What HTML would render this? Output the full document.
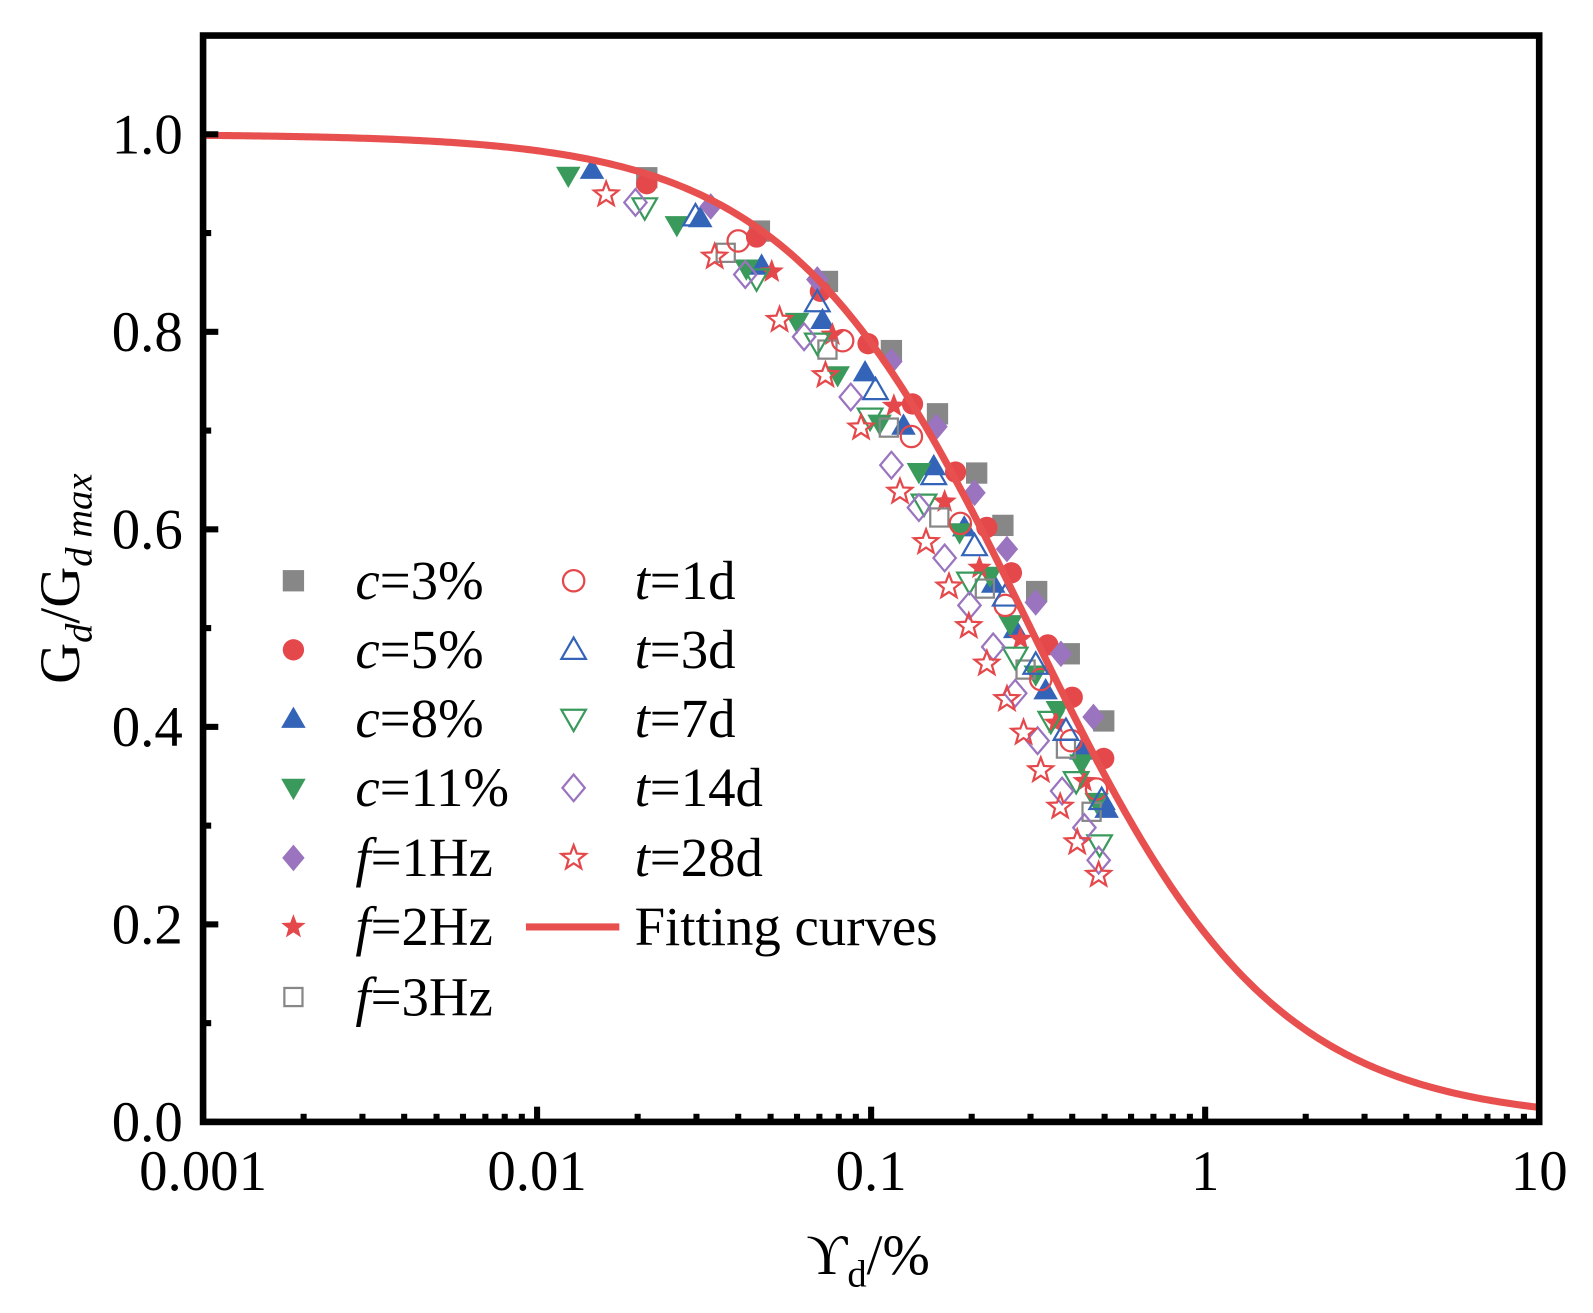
<!DOCTYPE html>
<html><head><meta charset="utf-8">
<style>
html,body{margin:0;padding:0;background:#fff;}
svg{display:block;font-family:"Liberation Serif",serif;}
</style></head>
<body>
<svg id="chart" width="1593" height="1313" viewBox="0 0 1593 1313">
<g id="root" transform="scale(1.0153)"></g>
</svg>
<script>
// ---- data (gamma in %, G/Gmax) ----
const xC3 = [0.0213,0.0463,0.0740,0.115,0.158,0.207,0.248,0.313,0.392,0.497];
const yC3 = [0.956,0.902,0.851,0.781,0.717,0.657,0.604,0.537,0.474,0.406];
const xC5 = [0.0213,0.0454,0.0705,0.0979,0.133,0.179,0.222,0.263,0.338,0.400,0.497];
const yC5 = [0.950,0.896,0.841,0.788,0.727,0.658,0.602,0.556,0.483,0.430,0.368];
const xC8 = [0.0146,0.0308,0.0470,0.0715,0.0959,0.125,0.154,0.190,0.232,0.270,0.333,0.426,0.507];
const yC8 = [0.964,0.915,0.867,0.812,0.759,0.705,0.664,0.602,0.545,0.499,0.437,0.376,0.317];
const xC11 = [0.0124,0.0262,0.0423,0.0600,0.0794,0.106,0.139,0.184,0.227,0.261,0.311,0.362,0.426,0.473];
const yC11 = [0.958,0.908,0.864,0.810,0.756,0.707,0.658,0.597,0.553,0.504,0.453,0.417,0.363,0.324];
const xF1 = [0.0331,0.0690,0.115,0.157,0.204,0.255,0.311,0.370,0.463];
const yF1 = [0.927,0.853,0.770,0.704,0.637,0.580,0.526,0.474,0.410];
const xF2 = [0.0504,0.0766,0.117,0.166,0.211,0.280,0.357,0.435];
const yF2 = [0.861,0.797,0.725,0.628,0.561,0.489,0.404,0.345];
const xF3 = [0.0367,0.0740,0.113,0.160,0.219,0.290,0.383,0.457];
const yF3 = [0.880,0.782,0.703,0.612,0.540,0.458,0.378,0.314];
const xT1 = [0.0400,0.0822,0.132,0.185,0.252,0.322,0.397,0.473];
const yT1 = [0.892,0.791,0.694,0.606,0.523,0.448,0.386,0.337];
const xT3 = [0.0298,0.0690,0.103,0.154,0.204,0.252,0.311,0.383,0.490];
const yT3 = [0.917,0.830,0.741,0.655,0.583,0.532,0.463,0.396,0.326];
const xT7 = [0.0210,0.0454,0.0690,0.0993,0.144,0.197,0.270,0.345,0.411,0.483];
const yT7 = [0.926,0.854,0.789,0.713,0.626,0.547,0.471,0.406,0.345,0.281];
const xT14 = [0.0197,0.0420,0.0630,0.0869,0.115,0.139,0.166,0.197,0.232,0.270,0.315,0.373,0.435,0.480];
const yT14 = [0.931,0.858,0.795,0.734,0.665,0.622,0.571,0.523,0.481,0.434,0.386,0.335,0.298,0.265];
const xT28 = [0.0161,0.0340,0.0532,0.0730,0.0933,0.122,0.146,0.171,0.196,0.222,0.255,0.286,0.322,0.368,0.414,0.480];
const yT28 = [0.939,0.876,0.812,0.756,0.703,0.638,0.587,0.542,0.502,0.464,0.428,0.394,0.356,0.319,0.283,0.250];
const fitParams = [0.30, 1.2]; // gamma_ref, n
const xTickVals = [0.001,0.01,0.1,1,10];
const xTickLabels = ["0.001","0.01","0.1","1","10"];
const yTickVals = [0,0.2,0.4,0.6,0.8,1.0];
const yTickLabels = ["0.0","0.2","0.4","0.6","0.8","1.0"];

// ---- layout (inner coordinates, group scaled) ----
const L=200,R=1516,T=35,B=1105;
const NS="http://www.w3.org/2000/svg";
const root=document.getElementById('root');
function X(v){return L+(Math.log10(v)+3)/4*(R-L);}
function Y(v){return B-v/1.1*(B-T);}
function mk(tag,attrs,parent){const e=document.createElementNS(NS,tag);for(const k in attrs)e.setAttribute(k,attrs[k]);(parent||root).appendChild(e);return e;}

const GRAY="#878787",RED="#e5484b",BLUE="#3464b8",GREEN="#3a9a5c",PURPLE="#9a74bf";
const S=10.5;
function starPts(cx,cy,r){let p=[];for(let i=0;i<10;i++){const a=-Math.PI/2+i*Math.PI/5;const rr=i%2?r*0.42:r;p.push((cx+rr*Math.cos(a)).toFixed(1)+","+(cy+rr*Math.sin(a)).toFixed(1));}return p.join(" ");}
function marker(shape,cx,cy,color,filled,parent){
  const st=filled?{fill:color,stroke:'none'}:{fill:'none',stroke:color,'stroke-width':2.2};
  let e;
  if(shape==='sq'){const s=filled?S:S*0.85;e=mk('rect',Object.assign({x:cx-s,y:cy-s,width:2*s,height:2*s},st),parent);}
  else if(shape==='ci'){e=mk('circle',Object.assign({cx:cx,cy:cy,r:S},st),parent);}
  else if(shape==='tu'){e=mk('polygon',Object.assign({points:`${cx},${cy-S*1.15} ${cx+S*1.15},${cy+S*0.85} ${cx-S*1.15},${cy+S*0.85}`},st),parent);}
  else if(shape==='td'){e=mk('polygon',Object.assign({points:`${cx},${cy+S*1.15} ${cx+S*1.15},${cy-S*0.85} ${cx-S*1.15},${cy-S*0.85}`},st),parent);}
  else if(shape==='di'){e=mk('polygon',Object.assign({points:`${cx},${cy-S*1.25} ${cx+S*1.05},${cy} ${cx},${cy+S*1.25} ${cx-S*1.05},${cy}`},st),parent);}
  else {e=mk('polygon',Object.assign({points:starPts(cx,cy,S*1.2)},st),parent);}
  return e;
}

const series=[
 {n:'c=3%',xs:xC3,ys:yC3,shape:'sq',c:GRAY,f:true,id:'c3'},
 {n:'c=5%',xs:xC5,ys:yC5,shape:'ci',c:RED,f:true,id:'c5'},
 {n:'c=8%',xs:xC8,ys:yC8,shape:'tu',c:BLUE,f:true,id:'c8'},
 {n:'c=11%',xs:xC11,ys:yC11,shape:'td',c:GREEN,f:true,id:'c11'},
 {n:'f=1Hz',xs:xF1,ys:yF1,shape:'di',c:PURPLE,f:true,id:'f1'},
 {n:'f=2Hz',xs:xF2,ys:yF2,shape:'st',c:RED,f:true,id:'f2'},
 {n:'f=3Hz',xs:xF3,ys:yF3,shape:'sq',c:GRAY,f:false,id:'f3'},
 {n:'t=1d',xs:xT1,ys:yT1,shape:'ci',c:RED,f:false,id:'t1'},
 {n:'t=3d',xs:xT3,ys:yT3,shape:'tu',c:BLUE,f:false,id:'t3'},
 {n:'t=7d',xs:xT7,ys:yT7,shape:'td',c:GREEN,f:false,id:'t7'},
 {n:'t=14d',xs:xT14,ys:yT14,shape:'di',c:PURPLE,f:false,id:'t14'},
 {n:'t=28d',xs:xT28,ys:yT28,shape:'st',c:RED,f:false,id:'t28'}
];

// markers
series.forEach(s=>{
  const g=mk('g',{});
  
  
  s.xs.forEach((xv,i)=>{
    const m=marker(s.shape,X(xv),Y(s.ys[i]),s.c,s.f,g);
    
    
  });
});

// fitting curve
let d='';
for(let i=0;i<=400;i++){const lg=-3+4*i/400;const g=Math.pow(10,lg);const v=1/(1+Math.pow(g/fitParams[0],fitParams[1]));d+=(i?'L':'M')+X(g).toFixed(2)+','+Y(v).toFixed(2);}
const curve=mk('path',{d:d,fill:'none',stroke:'#e8504f','stroke-width':7});



// axes frame
const frame=mk('rect',{x:L,y:T,width:R-L,height:B-T,fill:'none',stroke:'#000','stroke-width':6.5});



// x ticks
for(let dec=-3;dec<1;dec++){for(let k=2;k<=9;k++){const xv=k*Math.pow(10,dec);const t=mk('line',{x1:X(xv),x2:X(xv),y1:B,y2:B-8,stroke:'#000','stroke-width':6});

}}
xTickVals.forEach((v,i)=>{
  const t=mk('line',{x1:X(v),x2:X(v),y1:B,y2:B-15,stroke:'#000','stroke-width':6});
  
  
  const tx=mk('text',{x:X(v),y:1172,'text-anchor':'middle','font-size':56});
  tx.textContent=xTickLabels[i];
  
  
});
// y ticks
for(let k=0;k<11;k++){const v=k/10;const maj=k%2===0;const t=mk('line',{x1:L,x2:L+(maj?15:8),y1:Y(v),y2:Y(v),stroke:'#000','stroke-width':6});

}
yTickVals.forEach((v,i)=>{
  const tx=mk('text',{x:180,y:Y(v)+19,'text-anchor':'end','font-size':56});
  tx.textContent=yTickLabels[i];
  
  
});

// legend
const leg=mk('g',{});


const rowY=[572,640,708,776,845,913,982];
series.forEach((s,i)=>{
  const col=i<7?0:1, r=i<7?i:i-7;
  const mx=col?565:289, tx=col?625:350, y=rowY[r];
  const g=mk('g',{},leg);
  
  
  marker(s.shape,mx,y,s.c,s.f,g);
  const parts=s.n.split('=');
  const t=mk('text',{x:tx,y:y+18,'font-size':54},g);
  const it=mk('tspan',{'font-style':'italic'},t);it.textContent=parts[0];
  const rest=mk('tspan',{},t);rest.textContent='='+parts[1];
});
const fg=mk('g',{},leg);


mk('line',{x1:518,x2:610,y1:913,y2:913,stroke:'#e8504f','stroke-width':7},fg);
const ft=mk('text',{x:625,y:931,'font-size':54},fg);ft.textContent='Fitting curves';

// axis titles
const xt=mk('text',{x:855,y:1255,'text-anchor':'middle','font-size':56});


xt.innerHTML='ϒ<tspan font-size="38" dy="12">d</tspan><tspan dy="-12">/%</tspan>';
const yt=mk('text',{x:0,y:0,'text-anchor':'middle','font-size':56,transform:'translate(78,570) rotate(-90)'});


yt.innerHTML='G<tspan font-size="38" font-style="italic" dy="12">d</tspan><tspan dy="-12">/G</tspan><tspan font-size="38" font-style="italic" dy="12">d max</tspan>';
</script>
</body></html>
